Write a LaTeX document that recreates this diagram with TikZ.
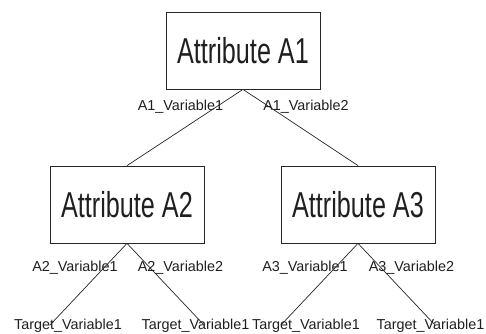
\documentclass[tikz,border=0pt]{standalone}
\usepackage{fontspec}
\setmainfont{Liberation Sans}
\newfontfamily\boxfont[FakeStretch=0.70]{Liberation Sans}
\begin{document}
\begin{tikzpicture}[x=1pt,y=-1pt,
  attr/.style={draw=black!85, line width=0.75pt, minimum width=154pt,
    minimum height=77pt, inner sep=0pt, text=black!88,
    font=\boxfont\fontsize{36}{40}\selectfont},
  lbl/.style={anchor=base, inner sep=0pt, text=black!88,
    font=\fontsize{14.4}{16}\selectfont},
  branch/.style={draw=black!85, line width=0.7pt}]
\useasboundingbox (0,0) rectangle (486,333);

% attribute boxes
\node[attr] (a1) at (243,50.5) {Attribute A1};
\node[attr] (a2) at (127,204.5) {Attribute A2};
\node[attr] (a3) at (358,204.5) {Attribute A3};

% branch labels
\node[lbl] (l11) at (180.5,110) {A1\_Variable1};
\node[lbl] (l12) at (306,110) {A1\_Variable2};
\node[lbl] (l21) at (75,271.5) {A2\_Variable1};
\node[lbl] (l22) at (180.5,271.5) {A2\_Variable2};
\node[lbl] (l31) at (305,271.5) {A3\_Variable1};
\node[lbl] (l32) at (411.5,271.5) {A3\_Variable2};

% leaves
\node[lbl] (t1) at (68,329) {Target\_Variable1};
\node[lbl] (t2) at (195.5,329) {Target\_Variable1};
\node[lbl] (t3) at (306,329) {Target\_Variable1};
\node[lbl] (t4) at (430.5,329) {Target\_Variable1};

% leaf ends of the branches
\coordinate (e1) at (50,325);
\coordinate (e2) at (204,325);
\coordinate (e3) at (281,325);
\coordinate (e4) at (435,325);

% branches
\draw[branch] (a1.south) -- (a2.north);
\draw[branch] (a1.south) -- (a3.north);
\draw[branch] (a2.south) -- (e1);
\draw[branch] (a2.south) -- (e2);
\draw[branch] (a3.south) -- (e3);
\draw[branch] (a3.south) -- (e4);
\end{tikzpicture}
\end{document}
